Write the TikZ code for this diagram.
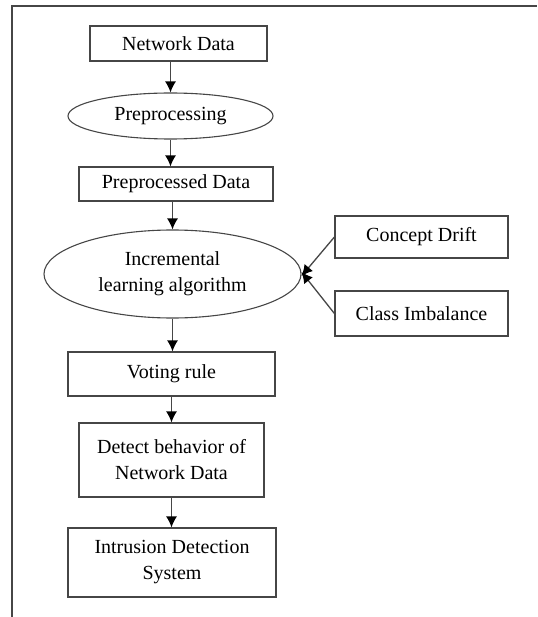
\documentclass[tikz,border=0pt]{standalone}
\usepackage{fontspec}
\setmainfont{Liberation Serif}
\usetikzlibrary{shapes.geometric,arrows.meta}
\definecolor{mygrey}{RGB}{70,70,70}
\tikzstyle{block}=[draw=mygrey,line width=1.2pt,rectangle,align=center,inner sep=0pt,font=\fontsize{20}{26}\selectfont]
\tikzstyle{oval}=[draw=mygrey,line width=1.1pt,ellipse,align=center,inner sep=0pt,font=\fontsize{20}{26}\selectfont]
\tikzstyle{flow}=[draw=mygrey,line width=1.3pt,-{Latex[length=11pt,width=11pt,color=black]}]

\begin{document}
\begin{tikzpicture}[x=1pt,y=-1pt]
\useasboundingbox (0,0) rectangle (537,617);
\draw [mygrey,line width=1.5pt] (12,617) -- (12,6) -- (537,6);
\node [block,minimum width=177pt,minimum height=35pt] (net) at (178.5,43.5) {Network Data};
\node [oval,minimum width=205pt,minimum height=46pt] (prep) at (170.5,116) {Preprocessing};
\node [block,minimum width=194pt,minimum height=34pt] (pdata) at (176,184) {Preprocessed Data};
\node [oval,minimum width=257pt,minimum height=88pt] (incr) at (172.5,274) {Incremental\\learning algorithm};
\node [block,minimum width=173pt,minimum height=42pt] (drift) at (421.5,237) {Concept Drift};
\node [block,minimum width=173pt,minimum height=45pt] (imbal) at (421.5,313.5) {Class Imbalance};
\node [block,minimum width=207pt,minimum height=44pt] (vote) at (171.5,374) {Voting rule};
\node [block,minimum width=185pt,minimum height=74pt] (detect) at (171.5,460) {Detect behavior of\\Network Data};
\node [block,minimum width=208pt,minimum height=69pt] (ids) at (172,562.5) {Intrusion Detection\\System};
\draw [flow] (net.south -| prep.north) -- (prep.north);
\draw [flow] (prep.south) -- (pdata.north -| prep.south);
\draw [flow] (pdata.south -| incr.north) -- (incr.north);
\draw [flow] (incr.south) -- (vote.north -| incr.south);
\draw [flow] (vote.south) -- (detect.north);
\draw [flow] (detect.south) -- (ids.north -| detect.south);
\draw [flow] (drift.west) -- ([yshift=-2pt]incr.east);
\draw [flow] (imbal.west) -- ([yshift=2pt]incr.east);
\end{tikzpicture}
\end{document}
